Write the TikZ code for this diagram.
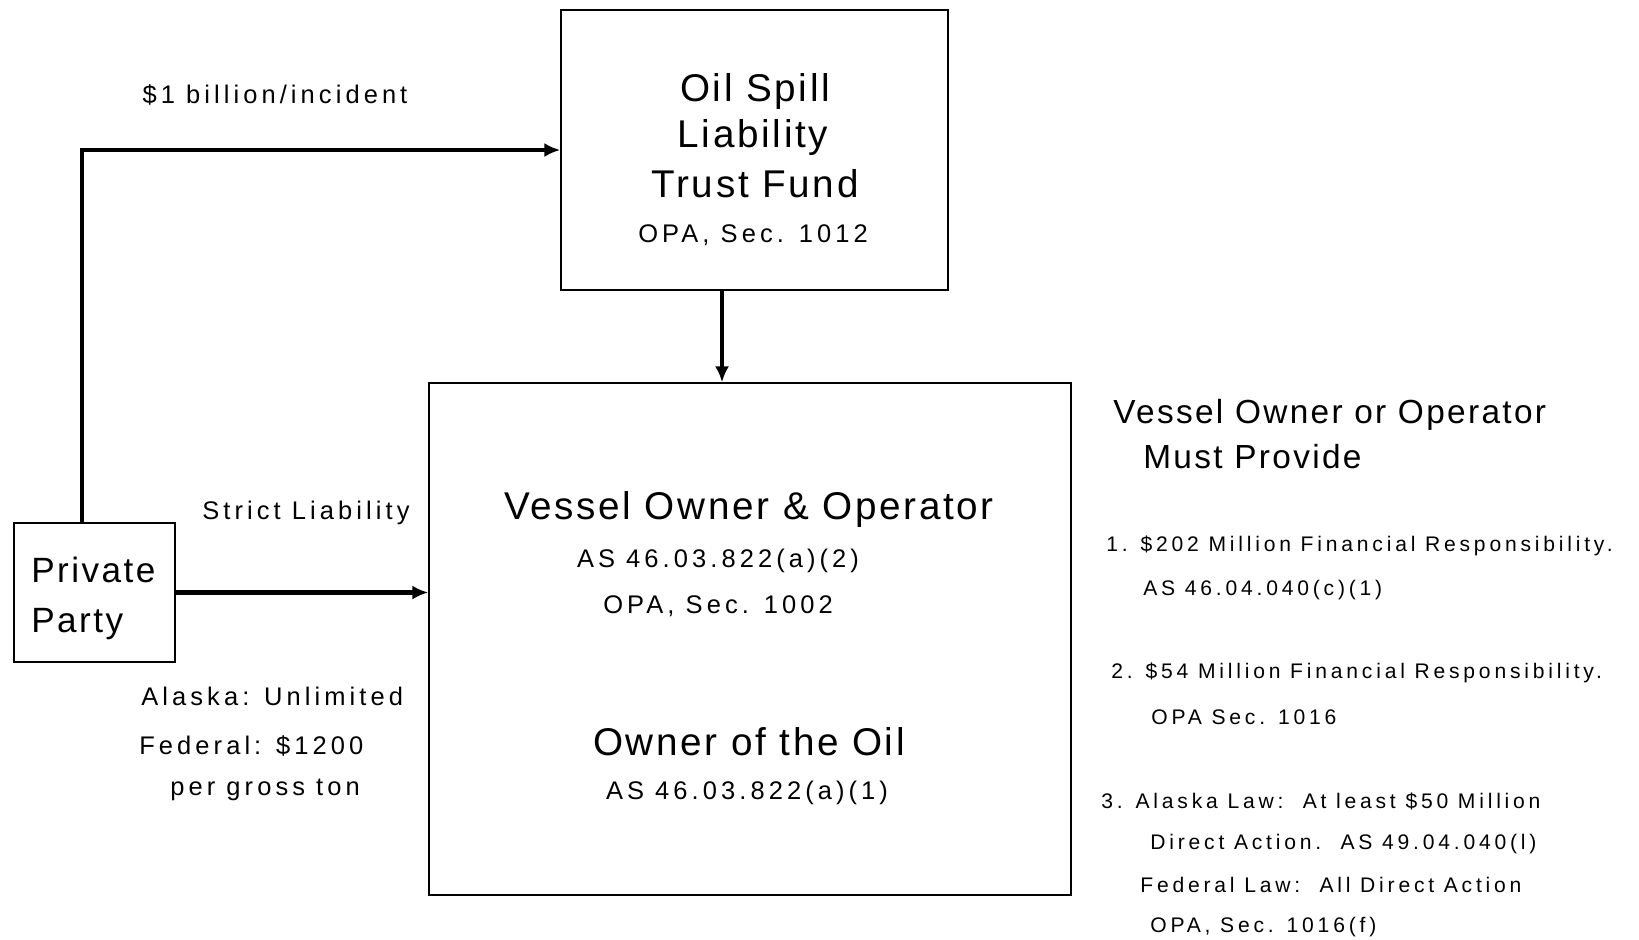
\documentclass[tikz,border=0pt]{standalone}
\usepackage{fontspec}
\setmainfont{Liberation Sans}
\newfontfamily\spaced[LetterSpace=7]{Liberation Sans}
\newfontfamily\wide[LetterSpace=16]{Liberation Sans}
\newfontfamily\wider[LetterSpace=18]{Liberation Sans}
\usetikzlibrary{arrows.meta}
\tikzset{
  box/.style={draw, line width=0.9pt, inner sep=0pt},
  flow/.style={line width=2.6pt, -{Latex[length=9pt,width=8pt]}},
  big/.style={font=\spaced\fontsize{22}{24}\selectfont, inner sep=0pt},
  mid/.style={font=\wide\fontsize{14.5}{16}\selectfont, inner sep=0pt},
  small/.style={font=\wider\fontsize{12}{14}\selectfont, inner sep=0pt, anchor=west},
}
\begin{document}
\begin{tikzpicture}[x=0.2mm, y=-0.2mm]
\useasboundingbox (0,0) rectangle (1639,939);
\node [box, minimum width=387*0.2mm, minimum height=280*0.2mm] at (754.5,150) (fund) {};
\node [box, minimum width=642*0.2mm, minimum height=512*0.2mm] at (750,639) (vo) {};
\node [box, minimum width=161*0.2mm, minimum height=139*0.2mm] at (94.5,592.5) (pp) {};
% texts of the boxes
\node [big] at (755,91) (f1) {Oil Spill};
\node [big] at (753,137) (f2) {Liability};
\node [big] at (755,184) (f3) {Trust Fund};
\node [mid] at (753,235) (f4) {OPA, Sec. 1012};
\node [big] at (749,509) (v1) {Vessel Owner \& Operator};
\node [mid] at (718,561) (v2) {AS 46.03.822(a)(2)};
\node [mid] at (718,606) (v3) {OPA, Sec. 1002};
\node [big] at (749,742) (o1) {Owner of the Oil};
\node [mid] at (747,793) (o2) {AS 46.03.822(a)(1)};
\node [big, anchor=west, font=\spaced\fontsize{20}{22}\selectfont] at (31,570) (p1) {Private};
\node [big, anchor=west, font=\spaced\fontsize{20}{22}\selectfont] at (31,624) (p2) {Party};
% labels
\node [mid] at (275,95) (lim) {\$1 billion/incident};
\node [mid] at (306,513) (strict) {Strict Liability};
\node [mid, anchor=west] at (141,696) (ak) {Alaska: Unlimited};
\node [mid, anchor=west] at (139,746) (fed) {Federal: \$1200};
\node [mid, anchor=west] at (170,790) (ton) {per gross ton};
% right column
\node [big, anchor=west, font=\spaced\fontsize{19}{21}\selectfont] at (1113,415) (must1) {Vessel Owner or Operator};
\node [big, anchor=west, font=\spaced\fontsize{19}{21}\selectfont] at (1143,457) (must2) {Must Provide};
\node [small] at (1106,546) (r1) {1. \$202 Million Financial Responsibility.};
\node [small] at (1143,590) (r1b) {AS 46.04.040(c)(1)};
\node [small] at (1111,673) (r2) {2. \$54 Million Financial Responsibility.};
\node [small] at (1151,717) (r2b) {OPA Sec. 1016};
\node [small] at (1101,801) (r3) {3. Alaska Law:\ \ At least \$50 Million};
\node [small] at (1150,844) (r3b) {Direct Action.\ \ AS 49.04.040(l)};
\node [small] at (1140,885) (r3c) {Federal Law:\ \ All Direct Action};
\node [small] at (1150,927) (r3d) {OPA, Sec. 1016(f)};
% connectors
\coordinate (bend) at (82,150);
\coordinate (drop) at (722,290);
\draw [flow] (pp.north -| bend) -- (bend) -- (fund.west);
\draw [flow] (pp.east) -- (vo.west |- pp.east);
\draw [flow] (drop) -- (drop |- vo.north);
\end{tikzpicture}
\end{document}
